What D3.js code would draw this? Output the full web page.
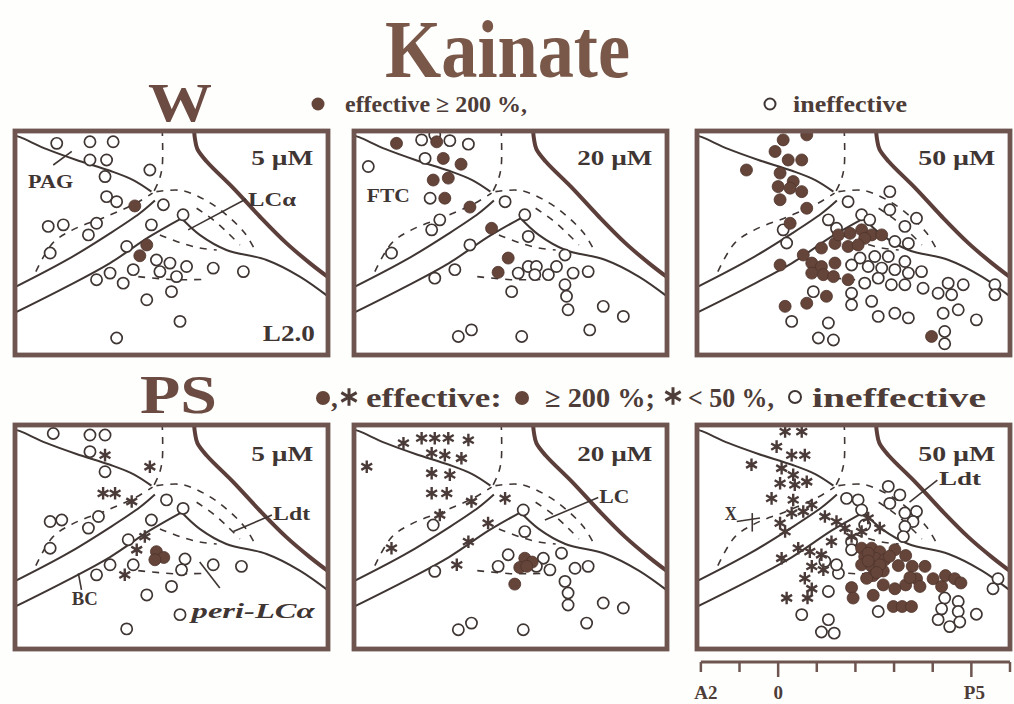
<!DOCTYPE html>
<html>
<head>
<meta charset="utf-8">
<script src="https://cdn.jsdelivr.net/npm/d3@7"></script>
<style>
  body { margin: 0; background: #fff; }
</style>
</head>
<body>
<svg id="fig" width="1014" height="704"></svg>
<script>
// ---- anatomy template (mm, x: rostro-caudal from the scale bar, y: depth from panel top)
const pagLine = [[-2.15,0.10],[-1.97,0.16],[-1.28,0.47],[-0.51,0.75],[0.36,1.03],[0.96,1.27],[1.43,1.57]];
const upperTract = [[-2.15,4.07],[-0.76,3.34],[0.36,2.65],[1.13,2.13],[1.52,1.80]];
const lowerTractLeft = [[-2.15,4.73],[-0.76,4.03],[0.36,3.42],[1.39,2.73],[2.21,2.26]];
const lowerTractRight = [[2.21,2.26],[2.68,2.69],[3.37,3.08],[4.41,3.34],[5.27,3.77],[6.05,4.32]];
const ventricle = [[2.53,-0.05],[2.56,0.22],[2.62,0.47],[2.86,0.79],[3.55,1.48],[4.24,2.22],[4.93,2.91],[5.53,3.42],[6.05,3.82]];
const midlineDash = [[1.71,-0.05],[1.71,0.92],[1.63,1.27],[1.49,1.57]];
const leftDash = [[-1.56,3.64],[-1.13,2.91],[-0.61,2.56],[0.25,2.22],[1.03,1.87],[1.46,1.61]];
const lcOuterDash = [[1.56,1.57],[2.21,1.54],[2.81,1.78],[3.37,2.17],[3.85,2.65],[4.15,3.16]];
const lcInnerDash = [[2.60,2.00],[3.03,2.30],[3.42,2.65],[3.72,2.95]];
const periDash = [[1.65,2.69],[2.17,2.89],[2.68,3.03],[3.12,3.08]];
const lowerDash = [[1.09,3.77],[2.00,3.85],[2.86,3.84]];

// ---- W (wakefulness) panels
const w5Open = [[-1.02,0.32],[-0.16,0.28],[0.44,0.28],[-0.16,0.75],[0.27,0.75],[0.23,1.18],[1.39,1.01],[0.27,1.70],[0.53,1.83],[1.74,1.91],[2.25,2.17],[-1.24,2.47],[-0.85,2.43],[0.01,2.39],[-0.20,2.69],[1.43,2.43],[-1.19,3.16],[0.79,2.99],[1.56,3.34],[1.91,3.42],[2.34,3.51],[3.03,3.55],[3.81,3.64],[0.01,3.85],[0.36,3.68],[0.70,3.94],[0.96,3.59],[1.65,3.64],[2.08,3.77],[1.31,4.37],[1.95,4.16],[2.17,4.93],[0.53,5.36]];
const w5Filled = [[1.00,1.94],[1.31,2.95],[1.13,3.23]];

const w20Open = [[-0.35,0.23],[0.38,0.25],[0.86,0.34],[-1.73,0.92],[-0.26,0.71],[-0.13,1.74],[0.12,2.30],[-0.09,2.56],[-1.13,3.16],[0.90,2.95],[1.81,1.83],[2.32,2.17],[2.41,2.73],[-0.01,3.81],[0.51,3.59],[2.15,3.68],[2.41,3.51],[2.62,3.51],[2.58,3.72],[2.93,3.72],[3.14,3.51],[3.36,3.21],[3.57,3.68],[3.96,3.64],[3.36,3.98],[3.40,4.28],[3.44,4.63],[1.98,4.16],[4.35,4.54],[4.87,4.80],[0.60,5.32],[0.94,5.15],[2.24,5.32],[4.00,5.15],[-0.01,0.10]];
const w20Filled = [[-1.00,0.32],[0.04,0.28],[0.21,0.71],[0.67,0.86],[-0.05,1.27],[0.34,1.22],[0.25,1.74],[0.90,1.97],[1.46,2.52],[1.89,3.29],[1.63,3.66]];

const w50Open = [[2.89,1.57],[1.81,1.83],[2.16,2.17],[2.37,2.30],[2.89,2.04],[3.28,2.47],[3.58,2.26],[1.30,2.30],[1.51,2.52],[0.13,2.56],[0.22,2.90],[3.02,2.86],[3.37,2.91],[2.12,3.29],[2.50,3.25],[2.85,3.25],[3.28,3.38],[1.90,3.47],[2.33,3.51],[2.68,3.55],[3.02,3.59],[3.37,3.68],[3.71,3.64],[2.24,3.94],[2.59,3.81],[2.93,3.98],[3.28,3.98],[3.75,4.07],[1.90,4.20],[1.90,4.50],[2.42,4.41],[2.59,4.80],[3.02,4.72],[3.37,4.84],[4.14,4.20],[4.40,3.94],[4.79,3.98],[4.49,4.24],[4.66,4.63],[4.27,4.72],[5.13,4.89],[5.61,3.98],[5.61,4.24],[4.31,5.19],[4.31,5.51],[0.35,4.93],[1.30,4.97],[1.04,5.36],[1.43,5.41],[0.91,4.16]];
const w50Filled = [[0.13,0.23],[-0.08,0.53],[0.74,0.10],[0.26,0.75],[0.61,0.75],[-0.82,1.01],[0.05,1.09],[0.39,1.31],[0.00,1.44],[0.31,1.48],[0.61,1.57],[0.05,1.78],[0.74,2.00],[0.31,2.39],[1.86,2.65],[2.16,2.56],[2.42,2.69],[2.68,2.69],[2.24,2.78],[1.47,2.91],[1.12,3.03],[1.81,2.99],[2.07,2.95],[0.65,3.21],[0.05,3.47],[0.87,3.42],[1.12,3.51],[1.47,3.42],[0.87,3.68],[1.17,3.72],[1.43,3.77],[1.81,3.85],[1.25,4.28],[0.74,4.46],[0.18,4.54],[3.97,5.32],[1.56,2.69]];

// ---- PS (paradoxical sleep) panels
const ps5Open = [[-1.11,0.22],[-0.16,0.26],[0.23,0.26],[-0.16,0.69],[0.23,1.21],[-1.19,2.50],[-0.89,2.46],[-0.20,2.67],[0.06,2.37],[-1.19,3.19],[1.82,1.94],[2.25,2.16],[1.43,2.46],[0.83,2.97],[0.96,3.62],[0.01,3.88],[0.36,3.62],[2.30,3.47],[2.21,3.75],[3.03,3.62],[3.76,3.66],[1.31,4.40],[1.95,4.18],[2.17,4.91],[0.79,5.28]];
const ps5Filled = [[1.56,3.28],[1.75,3.43],[1.52,3.49]];
const ps5Stars = [[0.23,0.78],[1.39,1.08],[0.18,1.77],[0.49,1.77],[0.92,1.98],[1.26,2.89],[1.05,3.23],[0.74,3.88]];

const ps20Open = [[2.28,2.20],[-0.05,2.59],[2.32,2.76],[1.89,3.36],[1.63,3.66],[2.80,3.45],[2.97,3.75],[3.27,3.32],[3.62,3.71],[3.96,3.66],[3.36,4.05],[3.44,4.35],[3.44,4.66],[4.35,4.61],[4.87,4.74],[-0.01,3.79],[0.60,5.30],[0.94,5.13],[2.28,5.30],[3.92,5.13],[2.62,3.66]];
const ps20Filled = [[2.32,3.45],[2.51,3.55],[2.19,3.69],[2.06,4.12],[2.37,3.66]];
const ps20Stars = [[-0.82,0.47],[-0.35,0.34],[-0.01,0.34],[0.34,0.34],[0.86,0.39],[-0.09,0.73],[0.25,0.78],[0.68,0.86],[-1.77,1.08],[-0.09,1.25],[0.38,1.29],[-0.09,1.77],[0.30,1.77],[0.94,1.98],[1.81,1.90],[0.12,2.33],[1.37,2.54],[0.86,3.02],[-1.13,3.19],[0.56,3.62]];

const ps50Open = [[2.85,1.59],[1.77,1.90],[2.07,1.94],[2.16,2.20],[2.89,2.03],[3.15,1.81],[3.28,2.28],[3.58,2.24],[3.49,2.50],[3.28,2.63],[2.24,2.59],[1.90,3.02],[1.90,3.23],[3.24,2.89],[1.21,3.53],[1.56,3.84],[1.51,3.62],[1.30,4.31],[0.61,4.91],[1.30,5.04],[1.12,5.36],[1.45,5.39],[4.31,4.48],[4.66,4.57],[5.13,4.90],[4.23,4.76],[4.66,4.83],[4.14,5.04],[4.44,5.22],[4.70,5.10],[5.69,3.98],[5.56,4.24],[2.59,4.83]];
const ps50Filled = [[2.16,3.19],[2.42,3.19],[2.63,3.28],[2.24,3.41],[2.52,3.45],[2.16,3.62],[2.42,3.66],[2.76,3.49],[2.72,3.78],[3.02,3.23],[3.30,3.38],[3.11,3.64],[3.47,3.66],[3.80,3.66],[3.58,3.98],[3.30,4.14],[3.02,4.24],[3.67,4.18],[4.01,3.98],[4.23,4.18],[4.33,3.90],[4.57,3.98],[4.73,4.09],[1.90,4.21],[1.94,4.48],[2.46,4.41],[2.98,4.70],[3.21,4.70],[3.45,4.70],[2.46,3.90],[2.72,4.14],[3.41,3.95],[2.29,3.97],[2.33,3.32],[2.63,3.62],[2.33,3.52],[2.88,3.40],[2.55,3.82]];
const ps50Stars = [[0.18,0.17],[0.61,0.17],[-0.04,0.56],[0.35,0.78],[0.69,0.78],[-0.69,1.03],[0.09,1.12],[0.39,1.29],[0.05,1.51],[0.43,1.55],[0.74,1.47],[-0.17,1.90],[0.05,2.54],[0.35,2.28],[0.65,2.24],[0.87,2.07],[0.18,2.76],[1.21,2.37],[1.51,2.50],[1.73,2.67],[1.38,3.02],[1.90,2.89],[2.33,2.41],[2.63,2.67],[2.16,2.76],[0.52,3.19],[0.82,3.28],[1.12,3.36],[0.09,3.45],[0.87,3.66],[1.17,3.75],[0.69,3.97],[0.87,4.24],[0.22,4.48],[0.76,4.48],[0.39,1.94]];

// ---- scale bar
const scaleTicks = [-2, -1, 0, 1, 2, 3, 4, 5, 6];
const scaleLabels = { "-2": "A2", "0": "0", "5": "P5" };

// ---- annotations inside the panels (mm)
const w5Labels = [{ text: "PAG", at: [-1.76, 1.48], size: 19, len: 45 }, { text: "LCα", at: [3.93, 1.94], size: 19, len: 48 }, { text: "L2.0", at: [5.66, 5.45], size: 23, len: 52, end: true }];
const w5Leaders = [[[-1.11, 0.88], [-0.63, 0.53]], [[2.38, 2.56], [3.88, 1.76]]];
const w20Labels = [{ text: "FTC", at: [-1.77, 1.83], size: 19, len: 43 }];
const ps5Labels = [{ text: "Ldt", at: [4.58, 2.47], size: 19, len: 37 }, { text: "BC", at: [-0.63, 4.66], size: 19, len: 26 }, { text: "peri-LCα", at: [2.47, 5.00], size: 22, len: 123, italic: true }];
const ps5Leaders = [[[3.55, 2.76], [4.55, 2.33]], [[-0.46, 3.84], [-0.38, 4.27]], [[2.68, 3.55], [3.20, 4.22]]];
const ps20Labels = [{ text: "LC", at: [4.25, 2.03], size: 19, len: 30 }];
const ps20Leaders = [[[2.84, 2.46], [4.22, 1.88]]];
const ps50Labels = [{ text: "Ldt", at: [4.16, 1.55], size: 19, len: 42 }, { text: "X", at: [-1.38, 2.45], size: 19, len: 12 }];
const ps50Leaders = [[[3.40, 2.00], [4.12, 1.43]], [[-1.07, 2.50], [-0.47, 2.41]], [[-0.67, 2.28], [-0.67, 2.76]]];

const panels = [
  { id: "w5", row: 0, col: 0, conc: "5 µM", concLen: 62, open: w5Open, filled: w5Filled, stars: [], labels: w5Labels, leaders: w5Leaders },
  { id: "w20", row: 0, col: 1, conc: "20 µM", concLen: 75, open: w20Open, filled: w20Filled, stars: [], labels: w20Labels, leaders: [] },
  { id: "w50", row: 0, col: 2, conc: "50 µM", concLen: 77, open: w50Open, filled: w50Filled, stars: [], labels: [], leaders: [] },
  { id: "ps5", row: 1, col: 0, conc: "5 µM", concLen: 62, open: ps5Open, filled: ps5Filled, stars: ps5Stars, labels: ps5Labels, leaders: ps5Leaders },
  { id: "ps20", row: 1, col: 1, conc: "20 µM", concLen: 75, open: ps20Open, filled: ps20Filled, stars: ps20Stars, labels: ps20Labels, leaders: ps20Leaders },
  { id: "ps50", row: 1, col: 2, conc: "50 µM", concLen: 77, open: ps50Open, filled: ps50Filled, stars: ps50Stars, labels: ps50Labels, leaders: ps50Leaders }
];

// ---- layout + style
const colX = [15, 354, 697], rowY = [131, 425];
const PW = 313, PH = 224;
const xDomain = [-2.1, 6.0], yDomain = [0, 5.8];
const serif = "'Liberation Serif','Times New Roman',Times,serif";
const ink = "#3f3634", frameCol = "#6e5550", fillCol = "#654539", brown = "#7a5849";

const svg = d3.select("#fig");
svg.append("rect").attr("width", 1014).attr("height", 704).attr("fill", "#fefefd");

function addText(parent, x, y, str, o) {
  const t = parent.append("text")
    .attr("x", x).attr("y", y)
    .attr("font-family", serif)
    .attr("font-weight", "bold")
    .attr("font-size", o.size)
    .attr("fill", o.fill || ink)
    .text(str);
  if (o.italic) t.attr("font-style", "italic");
  if (o.len) t.attr("textLength", o.len).attr("lengthAdjust", "spacingAndGlyphs");
  return t;
}

const star = (size) => d3.symbol(d3.symbolAsterisk, size)();

// header
addText(svg, 385, 77, "Kainate", { size: 82, len: 245, fill: brown });
addText(svg, 148, 121, "W", { size: 54, len: 64, fill: "#6c4c42" });
addText(svg, 140, 413, "PS", { size: 54, len: 77, fill: "#6c4c42" });

// legend row 1
svg.append("circle").attr("cx", 318).attr("cy", 104).attr("r", 6.5).attr("fill", fillCol);
addText(svg, 345, 112, "effective ≥ 200 %,", { size: 23, len: 182, fill: "#4d3c37" });
svg.append("circle").attr("cx", 770).attr("cy", 104).attr("r", 5.5).attr("fill", "#fff").attr("stroke", ink).attr("stroke-width", 2);
addText(svg, 793, 112, "ineffective", { size: 23, len: 114, fill: "#4d3c37" });

// legend row 2
svg.append("circle").attr("cx", 323).attr("cy", 398).attr("r", 7).attr("fill", fillCol);
addText(svg, 331, 407, ",", { size: 27, fill: "#4d3c37" });
svg.append("path").attr("d", star(220)).attr("transform", "translate(349,397)").attr("stroke", "#4d3c37").attr("stroke-width", 3);
addText(svg, 366, 407, "effective:", { size: 27, len: 136, fill: "#4d3c37" });
svg.append("circle").attr("cx", 522).attr("cy", 398).attr("r", 7).attr("fill", fillCol);
addText(svg, 545, 407, "≥ 200 %;", { size: 27, len: 110, fill: "#4d3c37" });
svg.append("path").attr("d", star(220)).attr("transform", "translate(673,396)").attr("stroke", "#4d3c37").attr("stroke-width", 3);
addText(svg, 688, 407, "< 50 %,", { size: 27, len: 86, fill: "#4d3c37" });
svg.append("circle").attr("cx", 795).attr("cy", 397).attr("r", 6).attr("fill", "#fff").attr("stroke", ink).attr("stroke-width", 2);
addText(svg, 812, 407, "ineffective", { size: 27, len: 174, fill: "#4d3c37" });

// panels
panels.forEach(p => {
  const x0 = colX[p.col], y0 = rowY[p.row];
  const x = d3.scaleLinear().domain(xDomain).range([x0, x0 + PW]);
  const y = d3.scaleLinear().domain(yDomain).range([y0, y0 + PH]);
  const line = d3.line().x(d => x(d[0])).y(d => y(d[1])).curve(d3.curveCatmullRom.alpha(0.5));

  const g = svg.append("g").attr("class", "panel-" + p.id);
  g.append("clipPath").attr("id", "clip-" + p.id)
    .append("rect").attr("x", x0).attr("y", y0).attr("width", PW).attr("height", PH);
  const inner = g.append("g").attr("clip-path", `url(#clip-${p.id})`);

  inner.append("rect").attr("x", x0).attr("y", y0).attr("width", PW).attr("height", PH).attr("fill", "#fff");

  [pagLine, upperTract, lowerTractLeft, lowerTractRight].forEach(l =>
    inner.append("path").attr("d", line(l)).attr("fill", "none").attr("stroke", ink).attr("stroke-width", 2));
  [midlineDash, leftDash, lcOuterDash, lcInnerDash, periDash, lowerDash].forEach(l =>
    inner.append("path").attr("d", line(l)).attr("fill", "none").attr("stroke", ink)
      .attr("stroke-width", 1.6).attr("stroke-dasharray", "7,7"));
  inner.append("path").attr("d", line(ventricle)).attr("fill", "none").attr("stroke", "#5c3f3a").attr("stroke-width", 4);

  p.leaders.forEach(l =>
    inner.append("path").attr("d", d3.line().x(d => x(d[0])).y(d => y(d[1]))(l))
      .attr("fill", "none").attr("stroke", ink).attr("stroke-width", 1.6));

  inner.selectAll("circle.open").data(p.open).join("circle").attr("class", "open")
    .attr("cx", d => x(d[0])).attr("cy", d => y(d[1])).attr("r", 5.6)
    .attr("fill", "#fff").attr("stroke", ink).attr("stroke-width", 1.7);
  inner.selectAll("path.star").data(p.stars).join("path").attr("class", "star")
    .attr("d", star(110)).attr("transform", d => `translate(${x(d[0])},${y(d[1])})`)
    .attr("stroke", "#4a3b38").attr("stroke-width", 2.4);
  inner.selectAll("circle.filled").data(p.filled).join("circle").attr("class", "filled")
    .attr("cx", d => x(d[0])).attr("cy", d => y(d[1])).attr("r", 6)
    .attr("fill", fillCol).attr("stroke", "#4e342c").attr("stroke-width", 0.8);

  p.labels.forEach(l => {
    const lx = l.end ? x(l.at[0]) - l.len : x(l.at[0]);
    addText(inner, lx, y(l.at[1]), l.text, { size: l.size, len: l.len, italic: l.italic });
  });
  addText(inner, x(5.62) - p.concLen, y(p.row === 0 ? 0.87 : 0.92), p.conc, { size: 21, len: p.concLen });

  g.append("rect").attr("x", x0).attr("y", y0).attr("width", PW).attr("height", PH)
    .attr("fill", "none").attr("stroke", frameCol).attr("stroke-width", 4.8);
});

// scale bar under the last column
const xs = d3.scaleLinear().domain(xDomain).range([colX[2], colX[2] + PW]);
const bar = svg.append("g");
bar.append("line").attr("x1", xs(-2)).attr("x2", xs(6)).attr("y1", 662).attr("y2", 662)
  .attr("stroke", frameCol).attr("stroke-width", 3);
bar.selectAll("line.tick").data(scaleTicks).join("line").attr("class", "tick")
  .attr("x1", d => xs(d)).attr("x2", d => xs(d))
  .attr("y1", 662).attr("y2", d => (d === 0 || d === 5) ? 677 : 672)
  .attr("stroke", frameCol).attr("stroke-width", 2.5);
bar.selectAll("text").data(scaleTicks.filter(d => scaleLabels[d] !== undefined)).join("text")
  .attr("x", d => xs(d) + (d === -2 ? 5 : d === 5 ? 3 : 0)).attr("y", 699)
  .attr("text-anchor", "middle")
  .attr("font-family", serif).attr("font-weight", "bold").attr("font-size", 19)
  .attr("fill", "#4d3c37")
  .text(d => scaleLabels[d]);
</script>
</body>
</html>
